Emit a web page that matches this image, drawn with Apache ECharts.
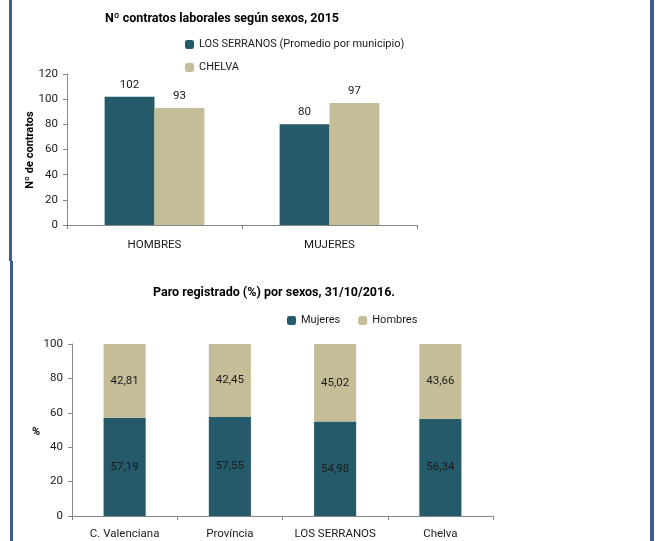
<!DOCTYPE html>
<html>
<head>
<meta charset="utf-8">
<script src="https://cdn.jsdelivr.net/npm/echarts@6/dist/echarts.min.js"></script>
<style>
html,body{margin:0;padding:0;background:#fff;}
#c{width:665px;height:541px;}
</style>
</head>
<body>
<div id="c"></div>
<script>
// Chart 1 data
var categories1 = ['HOMBRES', 'MUJERES'];
var serranos = [102, 80];
var chelva = [93, 97];
var ticks1 = [0, 20, 40, 60, 80, 100, 120];
// Chart 2 data
var categories2 = ['C. Valenciana', 'Província', 'LOS SERRANOS', 'Chelva'];
var mujeres = [57.19, 57.55, 54.98, 56.34];
var hombres = [42.81, 42.45, 45.02, 43.66];
var ticks2 = [0, 20, 40, 60, 80, 100];

var FONT = "Roboto, 'Noto Sans', sans-serif";
var DARK = '#245a69';
var LIGHT = '#c4bd97';
var AXIS = '#868686';
var TXT = '#1a1a1a';
var FS = 11.5;

var chart = echarts.init(document.getElementById('c'), null, {renderer: 'canvas'});
function comma(p) { return String(p.value.toFixed(2)).replace('.', ','); }

var option = {
  backgroundColor: '#fff',
  textStyle: {fontFamily: FONT, color: TXT},
  animation: false,
  title: [
    {text: 'Nº contratos laborales según sexos, 2015', left: 217, top: 7, textAlign: 'center',
     textStyle: {fontFamily: FONT, fontSize: 12.5, fontWeight: 'bold', color: '#000'}},
    {text: 'Paro registrado (%) por sexos, 31/10/2016.', left: 269, top: 281, textAlign: 'center',
     textStyle: {fontFamily: FONT, fontSize: 12.5, fontWeight: 'bold', color: '#000'}}
  ],
  legend: [
    {orient: 'vertical', left: 185, top: 39, padding: 0, itemWidth: 9, itemHeight: 9, itemGap: 12,
     data: ['LOS SERRANOS (Promedio por municipio)', 'CHELVA'],
     textStyle: {fontFamily: FONT, fontSize: 11, color: TXT}},
    {orient: 'horizontal', left: 287, top: 315, padding: 0, itemWidth: 9, itemHeight: 9, itemGap: 18,
     data: ['Mujeres', 'Hombres'],
     textStyle: {fontFamily: FONT, fontSize: 11, color: TXT}}
  ],
  grid: [
    {left: 67, right: 248, top: 74, bottom: 316, containLabel: false},
    {left: 72, right: 172, top: 344, bottom: 25, containLabel: false}
  ],
  xAxis: [
    {type: 'category', gridIndex: 0, data: categories1,
     axisLine: {lineStyle: {color: AXIS}}, axisTick: {show: true, length: 4, lineStyle: {color: AXIS}},
     axisLabel: {color: TXT, fontSize: FS, margin: 14, interval: 0, fontFamily: FONT}},
    {type: 'category', gridIndex: 1, data: categories2,
     axisLine: {lineStyle: {color: AXIS}}, axisTick: {show: true, length: 4, lineStyle: {color: AXIS}},
     axisLabel: {color: TXT, fontSize: FS, margin: 12, interval: 0, fontFamily: FONT}}
  ],
  yAxis: [
    {type: 'value', gridIndex: 0, min: ticks1[0], max: ticks1[ticks1.length - 1], interval: 20,
     axisLine: {show: true, lineStyle: {color: AXIS}}, axisTick: {show: true, length: 4, lineStyle: {color: AXIS}},
     splitLine: {show: false}, axisLabel: {color: TXT, fontSize: FS, margin: 9, fontFamily: FONT}},
    {type: 'value', gridIndex: 1, min: ticks2[0], max: ticks2[ticks2.length - 1], interval: 20,
     axisLine: {show: true, lineStyle: {color: AXIS}}, axisTick: {show: true, length: 4, lineStyle: {color: AXIS}},
     splitLine: {show: false}, axisLabel: {color: TXT, fontSize: FS, margin: 9, fontFamily: FONT}}
  ],
  series: [
    {name: 'LOS SERRANOS (Promedio por municipio)', type: 'bar', xAxisIndex: 0, yAxisIndex: 0,
     data: serranos, barGap: '0%', barCategoryGap: '43%', itemStyle: {color: DARK},
     label: {show: true, position: 'top', distance: 6, color: TXT, fontSize: FS, fontFamily: FONT}},
    {name: 'CHELVA', type: 'bar', xAxisIndex: 0, yAxisIndex: 0,
     data: chelva, barGap: '0%', barCategoryGap: '43%', itemStyle: {color: LIGHT},
     label: {show: true, position: 'top', distance: 6, color: TXT, fontSize: FS, fontFamily: FONT}},
    {name: 'Mujeres', type: 'bar', stack: 'p', xAxisIndex: 1, yAxisIndex: 1,
     data: mujeres, barCategoryGap: '60%', itemStyle: {color: DARK},
     label: {show: true, position: 'inside', color: TXT, fontSize: FS, fontFamily: FONT, formatter: comma}},
    {name: 'Hombres', type: 'bar', stack: 'p', xAxisIndex: 1, yAxisIndex: 1,
     data: hombres, barCategoryGap: '60%', itemStyle: {color: LIGHT},
     label: {show: true, position: 'inside', color: TXT, fontSize: FS, fontFamily: FONT, formatter: comma}}
  ],
  graphic: [
    {type: 'rect', shape: {x: 9, y: 0, width: 3, height: 261}, style: {fill: '#3d5f90'}},
    {type: 'rect', shape: {x: 10, y: 261, width: 3, height: 280}, style: {fill: '#3d5f90'}},
    {type: 'rect', shape: {x: 650, y: 0, width: 4, height: 541}, style: {fill: '#3d5f90'}},
    {type: 'text', x: 30, y: 150, rotation: Math.PI / 2,
     style: {text: 'Nº de contratos', fill: '#000', font: 'bold 11px ' + FONT, textAlign: 'center', textVerticalAlign: 'middle'}},
    {type: 'text', x: 36, y: 432,
     style: {text: '%', fill: '#000', font: 'bold 11px ' + FONT, textAlign: 'center', textVerticalAlign: 'middle'}}
  ]
};
chart.setOption(option);
</script>
</body>
</html>
